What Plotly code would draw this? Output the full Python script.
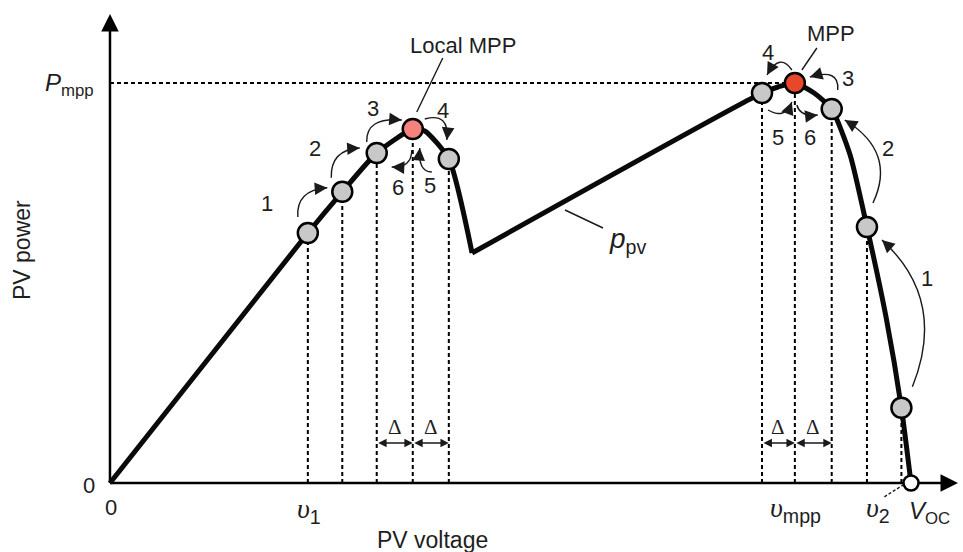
import math
import plotly.graph_objects as go

# ---------------- data (normalised units: V_OC = 100, P_mpp = 100) ----------------
curve_v = [0, 24.7, 29.0, 33.3, 37.8, 39.3, 42.3, 45.2, 81.4, 83.4, 85.5, 87.9, 90.1,
           92.4, 94.5, 96.9, 98.8, 100.0]
curve_p = [0, 62.5, 72.8, 82.5, 88.5, 88.0, 81.0, 57.5, 97.5, 99.0, 100.0, 97.5, 93.5,
           82.0, 64.0, 41.3, 18.8, 0.0]
dip_index = 7  # sharp corner between the two humps

left_v = [24.7, 29.0, 33.3, 37.8, 42.3]      # tracking points around the local MPP
left_p = [62.5, 72.8, 82.5, 88.5, 81.0]
right_v = [81.4, 85.5, 90.1, 94.5, 98.8]     # tracking points around the global MPP
right_p = [97.5, 100.0, 93.5, 64.0, 18.8]
v_oc = 100.0
p_mpp = 100.0

left_steps = ["1", "2", "3", "4", "5", "6"]
right_steps = ["1", "2", "3", "4", "5", "6"]

# ---------------- layout helpers ----------------
W, H = 963, 552
X_RANGE = [-13.73, 106.49]
Y_RANGE = [-17.25, 120.75]
SANS = "Liberation Sans, Arial, sans-serif"
SERIF = "Liberation Serif, Times New Roman, serif"
TXT = "#1e1e1e"


def px_to_data(px, py):
    x = X_RANGE[0] + px * (X_RANGE[1] - X_RANGE[0]) / W
    y = Y_RANGE[1] - py * (Y_RANGE[1] - Y_RANGE[0]) / H
    return x, y


def data_to_px(x, y):
    px = (x - X_RANGE[0]) * W / (X_RANGE[1] - X_RANGE[0])
    py = (Y_RANGE[1] - y) * H / (Y_RANGE[1] - Y_RANGE[0])
    return px, py


anchors = {
    "L": [data_to_px(v, p) for v, p in zip(left_v, left_p)],
    "R": [data_to_px(v, p) for v, p in zip(right_v, right_p)],
}

fig = go.Figure()
shapes = []
annotations = []

# axes lines
x_tip = px_to_data(958, 0)[0]
y_tip = px_to_data(0, 14)[1]
shapes.append(dict(type="line", x0=0, y0=0, x1=x_tip - 1, y1=0, xref="x", yref="y",
                   line=dict(color="black", width=2.5), layer="below"))
shapes.append(dict(type="line", x0=0, y0=0, x1=0, y1=y_tip - 2, xref="x", yref="y",
                   line=dict(color="black", width=2.5), layer="below"))
annotations.append(dict(x=x_tip, y=0, ax=-12, ay=0, xref="x", yref="y", text="",
                        showarrow=True, arrowhead=2, arrowsize=1.4, arrowwidth=2.5,
                        arrowcolor="black"))
annotations.append(dict(x=0, y=y_tip, ax=0, ay=12, xref="x", yref="y", text="",
                        showarrow=True, arrowhead=2, arrowsize=1.4, arrowwidth=2.5,
                        arrowcolor="black"))

# dashed guide lines
DASH = "4px,3px"
shapes.append(dict(type="line", x0=0, y0=p_mpp, x1=right_v[1], y1=p_mpp, xref="x", yref="y",
                   line=dict(color="black", width=2, dash=DASH), layer="below"))
for v, p in list(zip(left_v, left_p)) + list(zip(right_v, right_p)):
    shapes.append(dict(type="line", x0=v, y0=0, x1=v, y1=p, xref="x", yref="y",
                       line=dict(color="black", width=2, dash=DASH), layer="below"))

# PV curve (two smooth humps meeting at a sharp dip)
for sl in (slice(0, dip_index + 1), slice(dip_index, None)):
    fig.add_trace(go.Scatter(x=curve_v[sl], y=curve_p[sl], mode="lines",
                             line=dict(color="#0a0a0a", width=5, shape="spline", smoothing=0.6),
                             hoverinfo="skip"))

# tracking points
GRAY = "#c8c8c8"
left_cols = [GRAY, GRAY, GRAY, "#f4837d", GRAY]
right_cols = [GRAY, "#e8472c", GRAY, GRAY, GRAY]
fig.add_trace(go.Scatter(x=left_v + right_v, y=left_p + right_p, mode="markers",
                         marker=dict(size=20, color=left_cols + right_cols,
                                     line=dict(color="black", width=2.5)),
                         hoverinfo="skip"))
fig.add_trace(go.Scatter(x=[v_oc], y=[0], mode="markers",
                         marker=dict(size=15, color="white", line=dict(color="black", width=2.5)),
                         hoverinfo="skip"))

# curved step arrows: (side, idx, start offset), control offset, (side, idx, end offset)
arrow_specs = [
    (("L", 0, (-10, -16)), (-2, -27), ("L", 1, (-15, -4))),
    (("L", 1, (-11, -14)), (-1, -28), ("L", 2, (-17, -5))),
    (("L", 2, (-10, -11)), (-1, -25), ("L", 3, (-11, -9))),
    (("L", 3, (12, -10)), (25, -7), ("L", 4, (-2, -19))),
    (("L", 4, (-17, 13)), (-14, 0), ("L", 3, (7, 19))),
    (("L", 3, (-1, 21)), (0, 18), ("L", 2, (15, 14))),
    (("R", 4, (11, -21)), (35, -87), ("R", 3, (15, 13))),
    (("R", 3, (6, -24)), (24, -51), ("R", 2, (13, 11))),
    (("R", 2, (6, -19)), (2, -22), ("R", 1, (15, -6))),
    (("R", 1, (-3, -13)), (-12, -18), ("R", 0, (5, -18))),
    (("R", 0, (6, 17)), (17, 10), ("R", 1, (-3, 19))),
    (("R", 1, (2, 22)), (3, 12), ("R", 2, (-14, 6))),
]
for (s_side, s_i, s_off), c_off, (e_side, e_i, e_off) in arrow_specs:
    sx, sy = anchors[s_side][s_i]
    sx, sy = sx + s_off[0], sy + s_off[1]
    cx, cy = sx + c_off[0], sy + c_off[1]
    ex, ey = anchors[e_side][e_i]
    ex, ey = ex + e_off[0], ey + e_off[1]
    d0 = px_to_data(sx, sy)
    dc = px_to_data(cx, cy)
    d1 = px_to_data(ex, ey)
    shapes.append(dict(type="path", xref="x", yref="y",
                       path=f"M {d0[0]},{d0[1]} Q {dc[0]},{dc[1]} {d1[0]},{d1[1]}",
                       line=dict(color="#1a1a1a", width=1.4)))
    tx, ty = ex - cx, ey - cy
    n = math.hypot(tx, ty) or 1.0
    L = 6
    annotations.append(dict(x=d1[0], y=d1[1], xref="x", yref="y", text="",
                            ax=-tx / n * L, ay=-ty / n * L, showarrow=True,
                            arrowhead=2, arrowsize=1.8, arrowwidth=1.4, arrowcolor="#1a1a1a"))

# step numbers
left_step_px = [(267, 203), (315, 148), (373, 108), (443, 110), (430, 185), (398, 187)]
right_step_px = [(927, 278), (888, 148), (848, 78), (768, 52), (778, 137), (810, 137)]
for lab, (px, py) in list(zip(left_steps, left_step_px)) + list(zip(right_steps, right_step_px)):
    x, y = px_to_data(px, py)
    annotations.append(dict(x=x, y=y, xref="x", yref="y", text=lab, showarrow=False,
                            font=dict(family=SANS, size=22, color=TXT)))

# delta double arrows
y_delta = px_to_data(0, 443)[1]
y_delta_lab = px_to_data(0, 427)[1]
for vs in (left_v[2:5], right_v[0:3]):
    for a, b in ((vs[0], vs[1]), (vs[1], vs[2])):
        annotations.append(dict(x=b, y=y_delta, ax=a, ay=y_delta, xref="x", yref="y",
                                axref="x", ayref="y", text="", showarrow=True,
                                arrowside="end+start", arrowhead=2, arrowsize=1.2,
                                arrowwidth=1.4, arrowcolor="#1a1a1a"))
        annotations.append(dict(x=(a + b) / 2, y=y_delta_lab, xref="x", yref="y",
                                text="Δ", showarrow=False,
                                font=dict(family=SERIF, size=21, color=TXT)))


# leader lines
def leader(side, i, off0, off1, dash=None):
    ax_, ay_ = anchors[side][i]
    p0 = px_to_data(ax_ + off0[0], ay_ + off0[1])
    p1 = px_to_data(ax_ + off1[0], ay_ + off1[1])
    ln = dict(color="#1a1a1a", width=1.4)
    if dash:
        ln["dash"] = dash
    shapes.append(dict(type="line", xref="x", yref="y", x0=p0[0], y0=p0[1],
                       x1=p1[0], y1=p1[1], line=ln))


leader("L", 3, (30, -71), (4, -17))
leader("R", 1, (22, -35), (7, -13))
leader("R", 4, (-17, 89), (2, 77), dash="3px,2px")
p_a = px_to_data(565, 210)
p_b = px_to_data(603, 228)
shapes.append(dict(type="line", xref="x", yref="y", x0=p_a[0], y0=p_a[1], x1=p_b[0], y1=p_b[1],
                   line=dict(color="#1a1a1a", width=1.4)))


def label(px, py, text, size=22, family=SANS, xanchor="center", yanchor="middle", angle=0):
    x, y = px_to_data(px, py)
    annotations.append(dict(x=x, y=y, xref="x", yref="y", text=text, showarrow=False,
                            xanchor=xanchor, yanchor=yanchor, textangle=angle,
                            font=dict(family=family, size=size, color=TXT)))


UPS = f'<span style="font-family:{SERIF}"><i>υ</i></span>'
label(463, 45, "Local MPP")
label(831, 33, "MPP")
label(607, 240, "<i>p</i><sub>pv</sub>", size=28, xanchor="left")
label(96, 84, "<i>P</i><sub>mpp</sub>", size=24, xanchor="right")
label(97, 485, "0", xanchor="right")
label(111, 507, "0")
label(309, 510, UPS + "<sub>1</sub>", size=28)
label(795, 509, UPS + "<sub>mpp</sub>", size=28)
label(878, 509, UPS + "<sub>2</sub>", size=28)
label(929, 512, "<i>V</i><sub>OC</sub>", size=24)
label(432, 540, "PV voltage", size=23)
label(22, 250, "PV power", size=23, angle=-90)

fig.update_layout(
    width=W, height=H, margin=dict(l=0, r=0, t=0, b=0),
    paper_bgcolor="white", plot_bgcolor="white", showlegend=False,
    xaxis=dict(range=X_RANGE, visible=False, fixedrange=True),
    yaxis=dict(range=Y_RANGE, visible=False, fixedrange=True),
    shapes=shapes, annotations=annotations,
)

fig.write_html("out.html", config={"displayModeBar": False},
               post_script="document.body.style.margin='0';")
